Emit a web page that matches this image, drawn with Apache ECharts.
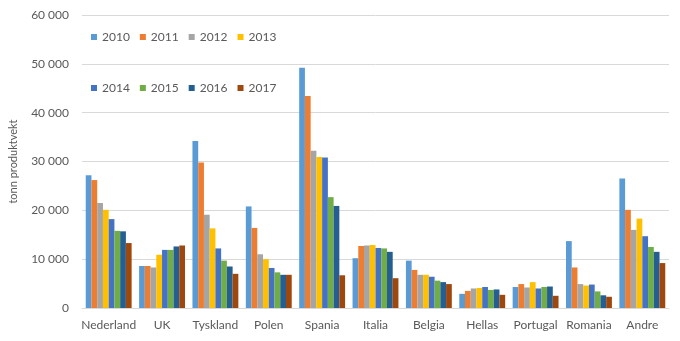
<!DOCTYPE html>
<html>
<head>
<meta charset="utf-8">
<script src="https://cdn.jsdelivr.net/npm/echarts@6/dist/echarts.min.js"></script>
<style>html,body{margin:0;padding:0;background:#fff}#c{width:680px;height:341px}</style>
</head>
<body>
<div id="c"></div>
<script>
var categories = ['Nederland','UK','Tyskland','Polen','Spania','Italia','Belgia','Hellas','Portugal','Romania','Andre'];
var years = ['2010','2011','2012','2013','2014','2015','2016','2017'];
var v2010 = [27200, 8600, 34200, 20800, 49200, 10200, 9700, 2900, 4300, 13700, 26500];
var v2011 = [26200, 8600, 29800, 16400, 43400, 12700, 7800, 3500, 4900, 8300, 20100];
var v2012 = [21500, 8300, 19100, 11000, 32200, 12800, 6800, 4000, 4200, 4900, 16000];
var v2013 = [20100, 10900, 16300, 10000, 30900, 12900, 6800, 4100, 5300, 4600, 18300];
var v2014 = [18200, 11900, 12200, 8200, 30800, 12300, 6400, 4300, 4000, 4800, 14700];
var v2015 = [15800, 11900, 9700, 7300, 22700, 12200, 5600, 3700, 4300, 3400, 12500];
var v2016 = [15700, 12600, 8500, 6800, 20900, 11500, 5300, 3800, 4400, 2600, 11500];
var v2017 = [13300, 12800, 7000, 6800, 6700, 6100, 4900, 2700, 2500, 2300, 9200];
var yTicks = [0, 10000, 20000, 30000, 40000, 50000, 60000];
var values = [v2010, v2011, v2012, v2013, v2014, v2015, v2016, v2017];
var colors = ['#5B9BD5','#ED7D31','#A5A5A5','#FFC000','#4472C4','#70AD47','#255E91','#9E480E'];
var font = 'Lato, "Open Sans", sans-serif';
var series = years.map(function(y, i){
  return {name: y, type: 'bar', data: values[i], barGap: '0%', barCategoryGap: '14%', itemStyle: {color: colors[i]}};
});
var legendCommon = {orient: 'horizontal', itemWidth: 6, itemHeight: 6, itemGap: 10, icon: 'rect',
  textStyle: {color: '#595959', fontSize: 12, fontFamily: font}, left: 86};
var chart = echarts.init(document.getElementById('c'), null, {renderer: 'canvas'});
chart.setOption({
  animation: false,
  color: colors,
  grid: {left: 80, right: 11, top: 15, bottom: 33, containLabel: false},
  legend: [
    Object.assign({}, legendCommon, {top: 26, data: years.slice(0,4)}),
    Object.assign({}, legendCommon, {top: 77, data: years.slice(4)})
  ],
  xAxis: {type: 'category', data: categories,
    axisLine: {lineStyle: {color: '#d9d9d9'}}, axisTick: {show: false},
    axisLabel: {color: '#595959', fontSize: 12, fontFamily: font, margin: 11, interval: 0}},
  yAxis: {type: 'value', min: yTicks[0], max: yTicks[yTicks.length-1], interval: 10000,
    name: 'tonn produktvekt', nameLocation: 'middle', nameGap: 63, nameRotate: 90,
    nameTextStyle: {color: '#595959', fontSize: 11, fontFamily: font},
    axisLine: {show: false}, axisTick: {show: false},
    splitLine: {lineStyle: {color: '#d9d9d9'}},
    axisLabel: {color: '#595959', fontSize: 12, fontFamily: font, margin: 13,
      formatter: function(v){ return String(v).replace(/\B(?=(\d{3})+(?!\d))/g, ' '); }}},
  series: series
});
</script>
</body>
</html>
